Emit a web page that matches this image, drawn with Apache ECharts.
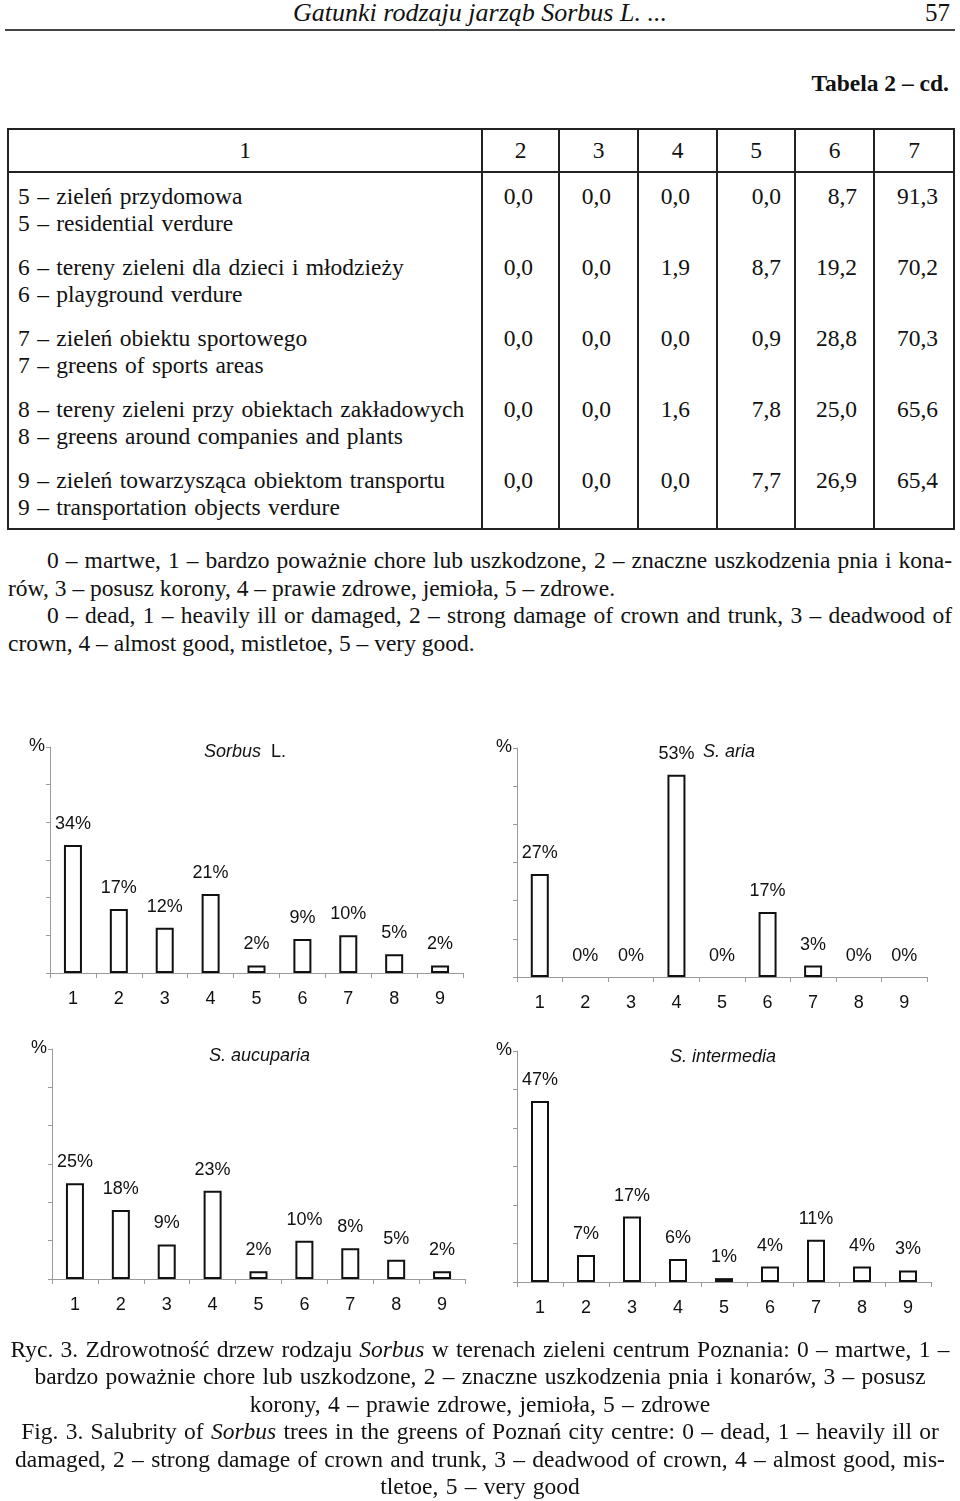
<!DOCTYPE html>
<html>
<head>
<meta charset="utf-8">
<script src="https://cdn.jsdelivr.net/npm/echarts/dist/echarts.min.js"></script>
<style>
  html, body { margin: 0; padding: 0; background: #fff; }
  body { width: 960px; height: 1501px; position: relative; overflow: hidden;
         font-family: "Liberation Serif", "Times New Roman", serif; color: #111; }
  .abs { position: absolute; }
  .serif { font-size: 23.5px; line-height: 27.5px; }
  #tbl { position: absolute; left: 7px; top: 128px; width: 946px; border-collapse: collapse;
         table-layout: fixed; border: 2px solid #222; font-size: 23.5px; }
  #tbl th { font-weight: normal; height: 41px; border: 2px solid #222; text-align: center; padding: 0; line-height: 27px; }
  #tbl td { border-left: 2px solid #222; border-right: 2px solid #222; vertical-align: top;
            padding: 10px 0 0 0; line-height: 27px; height: 61px; }
  #tbl td.lab { padding-left: 9px; white-space: nowrap; word-spacing: 1.5px; }
  #tbl td.num { text-align: right; }
  .jl { text-align: justify; text-align-last: justify; white-space: normal; }
  .cl { text-align: center; white-space: nowrap; word-spacing: 1.4px; }
  #chart { position: absolute; left: 0; top: 700px; width: 960px; height: 640px; }
</style>
</head>
<body>
<div class="abs" style="left:0;top:0;width:960px;text-align:center;font-style:italic;font-size:26px;line-height:26px;">Gatunki rodzaju jarząb Sorbus L. ...</div>
<div class="abs" style="right:10px;top:0;font-size:25px;line-height:26px;">57</div>
<div class="abs" style="left:5px;top:29px;width:950px;height:2px;background:#444;"></div>
<div class="abs" style="right:11px;top:70px;font-weight:bold;font-size:23.5px;line-height:27px;">Tabela 2 – cd.</div>

<table id="tbl">
  <colgroup>
    <col style="width:474px"><col style="width:77px"><col style="width:79px"><col style="width:79px">
    <col style="width:78px"><col style="width:79px"><col style="width:80px">
  </colgroup>
  <thead><tr id="thead"></tr></thead>
  <tbody id="tbody"></tbody>
</table>

<div class="abs serif" style="left:8px;top:547px;width:944px;">
  <div class="jl" style="padding-left:39px;">0 – martwe, 1 – bardzo poważnie chore lub uszkodzone, 2 – znaczne uszkodzenia pnia i kona-</div>
  <div style="white-space:nowrap;">rów, 3 – posusz korony, 4 – prawie zdrowe, jemioła, 5 – zdrowe.</div>
  <div class="jl" style="padding-left:39px;">0 – dead, 1 – heavily ill or damaged, 2 – strong damage of crown and trunk, 3 – deadwood of</div>
  <div style="white-space:nowrap;">crown, 4 – almost good, mistletoe, 5 – very good.</div>
</div>

<div id="chart"></div>

<div class="abs serif" style="left:0;top:1336px;width:960px;line-height:27.4px;">
  <div class="cl">Ryc. 3. Zdrowotność drzew rodzaju <i>Sorbus</i> w terenach zieleni centrum Poznania: 0 – martwe, 1 –</div>
  <div class="cl">bardzo poważnie chore lub uszkodzone, 2 – znaczne uszkodzenia pnia i konarów, 3 – posusz</div>
  <div class="cl">korony, 4 – prawie zdrowe, jemioła, 5 – zdrowe</div>
  <div class="cl">Fig. 3. Salubrity of <i>Sorbus</i> trees in the greens of Poznań city centre: 0 – dead, 1 – heavily ill or</div>
  <div class="cl">damaged, 2 – strong damage of crown and trunk, 3 – deadwood of crown, 4 – almost good, mis-</div>
  <div class="cl">tletoe, 5 – very good</div>
</div>

<script>
// ---------- Table data ----------
const tableHeader = ['1', '2', '3', '4', '5', '6', '7'];
const tableRowLabels = [
  ['5 – zieleń przydomowa', '5 – residential verdure'],
  ['6 – tereny zieleni dla dzieci i młodzieży', '6 – playground verdure'],
  ['7 – zieleń obiektu sportowego', '7 – greens of sports areas'],
  ['8 – tereny zieleni przy obiektach zakładowych', '8 – greens around companies and plants'],
  ['9 – zieleń towarzysząca obiektom transportu', '9 – transportation objects verdure']
];
const tableValues = [
  ['0,0', '0,0', '0,0', '0,0', '8,7', '91,3'],
  ['0,0', '0,0', '1,9', '8,7', '19,2', '70,2'],
  ['0,0', '0,0', '0,0', '0,9', '28,8', '70,3'],
  ['0,0', '0,0', '1,6', '7,8', '25,0', '65,6'],
  ['0,0', '0,0', '0,0', '7,7', '26,9', '65,4']
];

// ---------- Chart data ----------
const categories = ['1', '2', '3', '4', '5', '6', '7', '8', '9'];
const sorbusL     = [34, 17, 12, 21, 2, 9, 10, 5, 2];
const sAria       = [27, 0, 0, 53, 0, 17, 3, 0, 0];
const sAucuparia  = [25, 18, 9, 23, 2, 10, 8, 5, 2];
const sIntermedia = [47, 7, 17, 6, 1, 4, 11, 4, 3];
const yTicks = { min: 0, max: 60, interval: 10 };

// build table
(function () {
  const numPad = [25, 26, 26, 13, 16, 15];
  const th = document.getElementById('thead');
  tableHeader.forEach(h => { const c = document.createElement('th'); c.textContent = h; th.appendChild(c); });
  const tb = document.getElementById('tbody');
  tableRowLabels.forEach((lab, r) => {
    const tr = document.createElement('tr');
    const td = document.createElement('td');
    td.className = 'lab';
    td.innerHTML = lab[0] + '<br>' + lab[1];
    tr.appendChild(td);
    tableValues[r].forEach((v, k) => {
      const c = document.createElement('td');
      c.className = 'num';
      c.style.paddingRight = numPad[k] + 'px';
      c.textContent = v;
      tr.appendChild(c);
    });
    tb.appendChild(tr);
  });
})();

// ---------- charts ----------
const SANS = '"Liberation Sans", Arial, sans-serif';
const FS = 18;
const panels = [
  { data: sorbusL,     grid: { left: 50,  top: 47,  width: 413, height: 226 } },
  { data: sAria,       grid: { left: 517, top: 48,  width: 410, height: 229 } },
  { data: sAucuparia,  grid: { left: 52,  top: 349, width: 413, height: 230 } },
  { data: sIntermedia, grid: { left: 517, top: 351, width: 414, height: 231 } }
];
const titles = [
  { text: '{i|Sorbus}  L.', left: 204, top: 43 },
  { text: '{i|S. aria}',    left: 703, top: 43 },
  { text: '{i|S. aucuparia}', left: 209, top: 347 },
  { text: '{i|S. intermedia}', left: 670, top: 348 }
];
const axisGray = '#9a9a9a';

const option = {
  animation: false,
  backgroundColor: 'transparent',
  title: titles.map(t => ({
    text: t.text, left: t.left, top: t.top, padding: 0,
    textStyle: { fontFamily: SANS, fontSize: FS, fontWeight: 'normal', color: '#111',
      rich: { i: { fontFamily: SANS, fontSize: FS, fontStyle: 'italic', color: '#111' } } }
  })),
  grid: panels.map(p => Object.assign({ containLabel: false, outerBoundsMode: 'none' }, p.grid)),
  xAxis: panels.map((p, i) => ({
    type: 'category', gridIndex: i, data: categories,
    axisLine: { show: true, lineStyle: { color: axisGray, width: 1 } },
    axisTick: { show: true, length: 5, lineStyle: { color: axisGray } },
    axisLabel: { color: '#111', fontSize: FS, fontFamily: SANS, margin: 17 },
    splitLine: { show: false }
  })),
  yAxis: panels.map((p, i) => ({
    type: 'value', gridIndex: i, min: yTicks.min, max: yTicks.max, interval: yTicks.interval,
    name: '%', nameLocation: 'end', nameGap: 1,
    nameTextStyle: { fontFamily: SANS, fontSize: FS, color: '#111', align: 'right', verticalAlign: 'middle', padding: [0, 5, 0, 0] },
    axisLine: { show: true, lineStyle: { color: axisGray, width: 1 } },
    axisTick: { show: true, length: 4, inside: false, lineStyle: { color: axisGray } },
    axisLabel: { show: false },
    splitLine: { show: false }
  })),
  series: panels.map((p, i) => ({
    type: 'bar', xAxisIndex: i, yAxisIndex: i, barWidth: 18,
    data: p.data.map(v => v === 0 ? { value: v, itemStyle: { borderWidth: 0, color: 'transparent' } } : v),
    itemStyle: { color: '#ffffff', borderColor: '#111', borderWidth: 2 },
    label: { show: true, position: 'top', distance: 12, formatter: '{c}%',
             fontFamily: SANS, fontSize: FS, color: '#111' }
  }))
};
const chart = echarts.init(document.getElementById('chart'), null, { renderer: 'canvas' });
chart.setOption(option);
</script>
</body>
</html>
